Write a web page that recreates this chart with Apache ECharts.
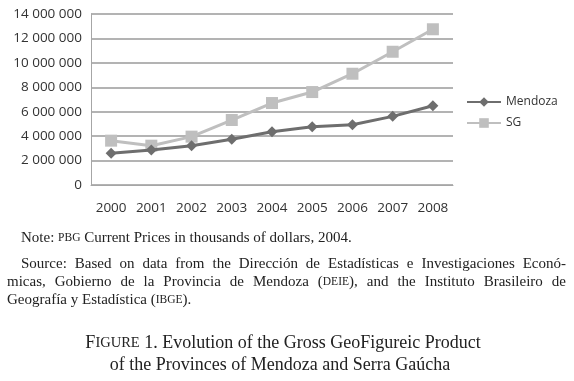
<!DOCTYPE html>
<html>
<head>
<meta charset="utf-8">
<script src="https://cdn.jsdelivr.net/npm/echarts@6/dist/echarts.min.js"></script>
<style>
  html, body { margin: 0; padding: 0; background: #fff; }
  #chart { width: 574px; height: 381px; }
</style>
</head>
<body>
<div id="chart"></div>
<script>
var years = ['2000', '2001', '2002', '2003', '2004', '2005', '2006', '2007', '2008'];
var mendoza = [2600000, 2870000, 3220000, 3740000, 4360000, 4770000, 4940000, 5620000, 6490000];
var sg = [3630000, 3220000, 3960000, 5320000, 6710000, 7610000, 9110000, 10910000, 12750000];

function fmt(v) {
    return String(v).replace(/\B(?=(\d{3})+(?!\d))/g, ' ');
}

var serif = '"Liberation Serif", serif';
var bodySize = 15, scSize = 11.5;

function line(txt, x, y, size, align, small) {
    return {
        type: 'text', x: x, y: y,
        style: {
            text: txt, font: size + 'px ' + serif, fill: '#222',
            align: align || 'left', verticalAlign: 'middle',
            rich: { sc: { fontSize: small || scSize, fontFamily: serif, fill: '#222' } }
        }
    };
}

// width of a word, small caps parts measured at their own size
var ctx = document.createElement('canvas').getContext('2d');
function textWidth(str, size) {
    var w = 0;
    str.split(/(\{sc\|[^}]*\})/).forEach(function (part) {
        if (!part) return;
        var m = part.match(/^\{sc\|([^}]*)\}$/);
        ctx.font = (m ? scSize : size) + 'px ' + serif;
        w += ctx.measureText(m ? m[1] : part).width;
    });
    return w;
}

// justified line: spread the words between x0 and x1
function justified(txt, x0, x1, y, size) {
    var words = txt.split(' ');
    var widths = words.map(function (w) { return textWidth(w, size); });
    var total = widths.reduce(function (a, b) { return a + b; }, 0);
    var gap = (x1 - x0 - total) / (words.length - 1);
    var x = x0;
    return words.map(function (w, i) {
        var el = line(w, x, y, size);
        x += widths[i] + gap;
        return el;
    });
}

var notes = [
    line('Note: {sc|PBG} Current Prices in thousands of dollars, 2004.', 21, 238, bodySize)
].concat(
    justified('Source: Based on data from the Dirección de Estadísticas e Investigaciones Econó-', 21, 566, 264, bodySize),
    justified('micas, Gobierno de la Provincia de Mendoza ({sc|DEIE}), and the Instituto Brasileiro de', 7, 566, 282, bodySize),
    [
        line('Geografía y Estadística ({sc|IBGE}).', 7, 300, bodySize),
        line('F{sc|IGURE} 1. Evolution of the Gross GeoFigureic Product', 283, 343, 18, 'center', 14.5),
        line('of the Provinces of Mendoza and Serra Gaúcha', 280, 365, 18, 'center')
    ]
);

var chart = echarts.init(document.getElementById('chart'));
chart.setOption({
    backgroundColor: '#fff',
    animation: false,
    textStyle: { fontFamily: '"Open Sans", sans-serif' },
    grid: { left: 91, right: 121, top: 14, bottom: 196 },
    legend: {
        orient: 'vertical',
        left: 461,
        top: 91,
        itemWidth: 34,
        itemHeight: 12,
        itemGap: 9,
        textStyle: { fontSize: 12, color: '#333' },
        data: ['Mendoza', 'SG']
    },
    xAxis: {
        type: 'category',
        data: years,
        axisLine: { lineStyle: { color: '#a6a6a6', width: 1 } },
        axisTick: { show: false },
        axisLabel: { fontSize: 13.5, color: '#333', margin: 16 }
    },
    yAxis: {
        type: 'value',
        min: 0,
        max: 14000000,
        interval: 2000000,
        axisLine: { show: true, lineStyle: { color: '#a6a6a6', width: 1 } },
        axisTick: { show: false },
        splitLine: { lineStyle: { color: '#9a9a9a', width: 1.5 } },
        axisLabel: { fontSize: 13.5, color: '#333', margin: 9, formatter: fmt }
    },
    series: [
        {
            name: 'Mendoza',
            type: 'line',
            data: mendoza,
            symbol: 'diamond',
            symbolSize: 11,
            color: '#6e6e6e',
            lineStyle: { width: 3, color: '#6e6e6e' },
            itemStyle: { color: '#6e6e6e' },
            z: 3
        },
        {
            name: 'SG',
            type: 'line',
            data: sg,
            symbol: 'rect',
            symbolSize: 12,
            color: '#bfbfbf',
            lineStyle: { width: 3, color: '#bfbfbf' },
            itemStyle: { color: '#bfbfbf' },
            z: 2
        }
    ],
    graphic: notes
});
</script>
</body>
</html>
